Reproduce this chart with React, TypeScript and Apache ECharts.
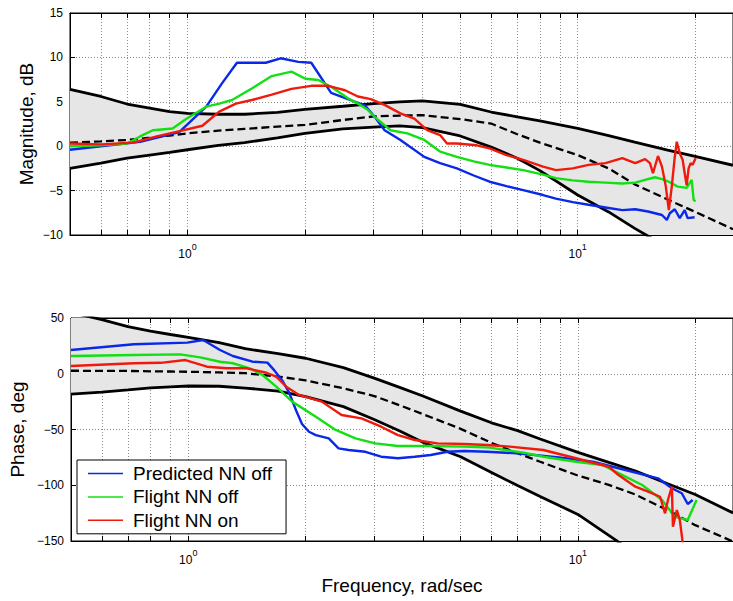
import React, { useEffect, useRef } from "react";
import * as echarts from "echarts";

// ---------- data ----------
const bandFreq = [0.5, 0.6, 0.7, 0.8, 0.9, 1.0, 1.2, 1.4, 1.7, 2.0, 2.5, 3.0, 3.5, 4.0, 5.0, 6.0, 7.0, 8.0, 10, 12, 14, 17, 20, 25];
const magUpper = [6.4, 5.6, 4.75, 4.3, 3.9, 3.7, 3.6, 3.6, 3.8, 4.15, 4.5, 4.8, 5.0, 5.1, 4.7, 3.85, 3.3, 2.85, 2.0, 1.2, 0.45, -0.45, -1.15, -2.15];
const magLower = [-2.5, -1.9, -1.35, -1.0, -0.7, -0.4, 0.1, 0.4, 0.95, 1.45, 1.95, 2.15, 2.3, 2.1, 1.15, -0.1, -1.35, -2.75, -5.5, -7.4, -9.25, -11.4, -13.2, -15.7];
const magCenter = [0.4, 0.55, 0.7, 0.95, 1.2, 1.45, 1.75, 1.95, 2.2, 2.4, 2.95, 3.35, 3.45, 3.5, 3.05, 2.55, 1.35, 0.4, -1.0, -2.5, -4.3, -6.0, -7.4, -9.35];
const phUpper = [55, 48.5, 42.2, 38.2, 35.2, 32.6, 27.9, 22.5, 18, 13.9, 5.5, -3.9, -12.5, -20, -33.5, -44, -51, -58.5, -70.5, -79.5, -87, -98.7, -108.3, -124.8];
const phLower = [-18.2, -16.5, -14.5, -12.7, -11.8, -11, -11.2, -12.8, -15.5, -20.5, -29.5, -41, -51.5, -61.5, -74.5, -88.5, -100.3, -110.1, -126.2, -144.9, -161, -181, -198, -221];
const phCenter = [2.7, 2.6, 2.5, 2.2, 2.0, 1.8, 1.2, 0.5, -2.5, -6, -13, -20, -28.5, -36.2, -49.4, -62, -71.3, -78.9, -91.3, -99.7, -108.1, -122.4, -135.8, -150.5];

const predMagFreq = [0.50, 0.60, 0.756, 0.954, 1.117, 1.227, 1.339, 1.587, 1.733, 1.924, 2.076, 2.334, 2.578, 2.847, 3.018, 3.2, 3.513, 4.044, 4.439, 4.902, 5.415, 5.946, 6.567, 7.251, 8.151, 8.794, 9.712, 10.66, 11.78, 13.01, 14.04, 15.14, 16.44, 16.92, 17.22, 17.73, 18.26, 18.8, 19.13, 19.93];
const predMag = [-0.4, 0.0, 0.5, 1.6, 4.45, 7.1, 9.4, 9.4, 9.9, 9.5, 9.4, 6.0, 5.3, 4.6, 3.3, 1.8, 0.7, -1.2, -1.9, -2.5, -3.3, -4.0, -4.5, -4.95, -5.5, -5.9, -6.3, -6.6, -6.9, -7.2, -7.1, -7.35, -7.75, -8.3, -7.55, -7.1, -8.1, -7.2, -8.1, -8.0];

const offMagFreq = [0.50, 0.60, 0.70, 0.756, 0.815, 0.916, 0.994, 1.117, 1.206, 1.301, 1.462, 1.644, 1.847, 2.005, 2.163, 2.334, 2.578, 2.733, 2.897, 3.018, 3.313, 3.659, 4.044, 4.439, 4.902, 5.415, 5.946, 6.567, 7.251, 8.151, 8.794, 9.712, 10.66, 11.78, 13.01, 14.04, 14.88, 15.78, 16.44, 17.02, 18.04, 19.02, 19.36, 19.59, 19.82, 20.05];
const offMag = [0.0, 0.1, 0.3, 1.1, 1.8, 2.0, 3.1, 4.45, 4.8, 5.2, 6.5, 7.9, 8.4, 7.6, 7.45, 6.7, 5.4, 4.8, 4.1, 3.3, 1.8, 1.45, 0.7, -0.6, -1.2, -1.7, -2.1, -2.4, -2.7, -3.2, -3.6, -3.85, -4.0, -4.1, -4.2, -4.1, -3.8, -3.5, -3.7, -3.95, -4.55, -4.7, -4.15, -3.8, -6.05, -6.2];

const onMagFreq = [0.50, 0.60, 0.725, 0.834, 0.954, 1.092, 1.206, 1.331, 1.462, 1.644, 1.847, 2.076, 2.293, 2.533, 2.733, 2.948, 3.2, 3.513, 3.813, 4.115, 4.439, 4.624, 4.902, 5.511, 5.946, 6.567, 7.251, 8.151, 8.794, 9.712, 10.66, 11.78, 13.01, 14.04, 14.88, 15.32, 15.59, 16.06, 16.44, 16.82, 17.12, 17.42, 17.73, 17.94, 18.26, 18.58, 18.8, 19.02, 19.24, 19.47, 19.7, 20.05];
const onMag = [0.3, 0.2, 0.4, 1.1, 1.7, 2.3, 3.9, 4.8, 5.2, 5.8, 6.45, 6.8, 6.8, 6.3, 5.6, 5.3, 4.65, 3.7, 3.1, 1.8, 1.25, 0.3, 0.3, 0.1, -0.25, -1.0, -1.55, -2.3, -2.7, -2.5, -2.1, -1.9, -1.35, -1.9, -1.45, -1.9, -3.05, -1.1, -2.3, -4.55, -7.2, -4.55, -1.2, 0.5, -0.8, -1.55, -3.05, -4.4, -2.5, -1.9, -2.1, -1.35];

const predPhFreq = [0.50, 0.725, 0.994, 1.092, 1.206, 1.301, 1.462, 1.596, 1.663, 1.742, 1.815, 1.891, 1.958, 2.04, 2.125, 2.293, 2.43, 2.578, 2.847, 3.126, 3.452, 3.813, 4.188, 4.624, 5.108, 5.843, 6.961, 8.95, 10.92, 13.24, 16.06, 17.42, 18.47, 19.13, 19.7];
const predPh = [21.3, 26.4, 27.9, 30.3, 21.3, 15.9, 10.8, 10, 3, -6, -17, -33, -45, -52, -55, -58, -66.9, -68.4, -70, -74.4, -75.8, -74.4, -72.9, -70, -69.3, -70, -71.3, -75, -78.9, -86.3, -93.8, -102.7, -107.2, -116.8, -113.2];

const offPhFreq = [0.50, 0.725, 0.954, 1.073, 1.206, 1.301, 1.437, 1.55, 1.682, 1.847, 2.125, 2.389, 2.685, 3.018, 3.452, 4.188, 5.108, 5.946, 7.251, 8.151, 9.883, 11.57, 13.24, 14.62, 16.44, 17.73, 19.13, 20.16];
const offPh = [15.9, 16.8, 17.4, 14.7, 10.8, 9.4, 4.9, -1.1, -11.6, -25, -38.5, -50.4, -57.9, -62.4, -64.8, -64.8, -65.4, -66.3, -70.8, -74.4, -78.9, -81.8, -92.3, -99.8, -113.2, -128.2, -131.2, -113.2];

const onPhFreq = [0.50, 0.725, 0.849, 0.983, 1.117, 1.256, 1.412, 1.587, 1.682, 1.784, 1.924, 2.201, 2.474, 2.782, 3.126, 3.452, 3.813, 4.362, 5.108, 5.843, 6.683, 8.151, 9.883, 11.99, 12.71, 14.04, 15.14, 16.25, 16.73, 17.02, 17.42, 17.53, 17.94, 18.26, 18.58, 18.8];
const onPh = [7, 9.4, 9.8, 12.3, 6.3, 4.9, 4.9, 0.9, -2.6, -11.6, -19, -25, -37, -40, -47.5, -55, -59.4, -62.4, -63, -63.9, -65.4, -68.4, -75.8, -83.4, -90.8, -101.3, -105.8, -110.3, -125.2, -113.2, -101.3, -137.2, -122.2, -131.2, -152, -160];

const seriesNames = ["Predicted NN off", "Flight NN off", "Flight NN on"];
const minorTicks = [0.6, 0.7, 0.8, 0.9, 1, 2, 3, 4, 5, 6, 7, 8, 9, 10, 20];
const majorTicks = [1, 10];

const FONT = "'Liberation Sans', Arial, Helvetica, sans-serif";
const BLUE = "#0a28e8";
const GREEN = "#12e012";
const RED = "#f01a0c";

function pairs(f: number[], v: number[]) {
  return f.map((x, i) => [x, v[i]]);
}

export default function App() {
  const ref = useRef<HTMLDivElement>(null);

  useEffect(() => {
    const chart = echarts.init(ref.current!, null, { renderer: "svg" });
    const gridLine = { type: [1, 2], color: "#8a8a8a", width: 1 };

    const makeX = (gridIndex: number, position: string, withLabels: boolean, name?: string) => ({
      type: "log",
      logBase: 10,
      gridIndex,
      position,
      min: 0.5,
      max: 25,
      axisLine: { show: true, onZero: false, lineStyle: { color: "#000", width: 1 } },
      axisTick: { show: true, inside: true, length: 5, customValues: minorTicks, lineStyle: { color: "#000", width: 1 } },
      minorTick: { show: false },
      axisLabel: withLabels
        ? {
            show: true,
            customValues: majorTicks,
            margin: 7,
            formatter: (v: number) => `{b|10}{s|${Math.round(Math.log10(v))}}`,
            rich: {
              b: { fontSize: 12, lineHeight: 24, color: "#000", fontFamily: FONT },
              s: { fontSize: 9, lineHeight: 7, verticalAlign: "top", color: "#000", fontFamily: FONT },
            },
          }
        : { show: false },
      splitLine: position === "bottom" ? { show: true, lineStyle: gridLine } : { show: false },
      name: name || "",
      nameLocation: "middle",
      nameGap: 34.5,
      nameMoveOverlap: false,
      nameTextStyle: { fontSize: 19, color: "#000", fontFamily: FONT },
    });

    const minusFmt = (v: number) => (v < 0 ? "\u2212" + Math.abs(v) : String(v));
    const makeY = (gridIndex: number, min: number, max: number, interval: number, name: string, nameGap: number) => ({
      type: "value",
      gridIndex,
      min,
      max,
      interval,
      axisLine: { show: true, lineStyle: { color: "#000", width: 1 } },
      axisTick: { show: true, inside: true, length: 5, lineStyle: { color: "#000" } },
      axisLabel: { color: "#000", fontSize: 12, margin: 7, fontFamily: FONT, formatter: minusFmt },
      splitLine: { show: true, lineStyle: gridLine },
      name,
      nameLocation: "middle",
      nameGap,
      nameMoveOverlap: false,
      nameTextStyle: { fontSize: 19, color: "#000", fontFamily: FONT },
    });

    const band = (xi: number, yi: number, up: number[], lo: number[]) => ({
      type: "custom",
      xAxisIndex: xi,
      yAxisIndex: yi,
      z: 1,
      silent: true,
      clip: true,
      data: bandFreq.map((f, i) => [f, up[i], lo[i]]),
      encode: { x: 0, y: [1, 2] },
      renderItem: (params: any, api: any) => {
        if (params.dataIndex !== 0) return null;
        const pts: number[][] = [];
        for (let i = 0; i < bandFreq.length; i++) pts.push(api.coord([bandFreq[i], up[i]]));
        for (let i = bandFreq.length - 1; i >= 0; i--) pts.push(api.coord([bandFreq[i], lo[i]]));
        const cs = params.coordSys;
        return {
          type: "polygon",
          shape: { points: pts },
          style: { fill: "#e6e6e6", stroke: null },
          clipPath: { type: "rect", shape: { x: cs.x, y: cs.y, width: cs.width, height: cs.height } },
        };
      },
    });

    const line = (name: string, xi: number, yi: number, f: number[], v: number[], color: string, width: number, dashed = false, z = 3) => ({
      type: "line",
      name,
      xAxisIndex: xi,
      yAxisIndex: yi,
      data: pairs(f, v),
      symbol: "none",
      showSymbol: false,
      clip: true,
      silent: true,
      z,
      lineStyle: { color, width, type: dashed ? [8, 4] : "solid" },
      itemStyle: { color },
    });

    const option: any = {
      animation: false,
      backgroundColor: "#fff",
      textStyle: { fontFamily: FONT },
      grid: [
        { left: 70, top: 13, width: 669, height: 222, show: true, borderColor: "#000", borderWidth: 1, backgroundColor: "transparent" },
        { left: 70, top: 318, width: 669, height: 223, show: true, borderColor: "#000", borderWidth: 1, backgroundColor: "transparent" },
      ],
      xAxis: [
        makeX(0, "bottom", true),
        makeX(0, "top", false),
        makeX(1, "bottom", true, "Frequency, rad/sec"),
        makeX(1, "top", false),
      ],
      yAxis: [makeY(0, -10, 15, 5, "Magnitude, dB", 34), makeY(1, -150, 50, 50, "Phase, deg", 44)],
      legend: {
        data: seriesNames,
        orient: "vertical",
        left: 77,
        top: 460,
        icon: "rect",
        itemWidth: 35,
        itemHeight: 1.5,
        itemGap: 4.4,
        padding: [4, 14, 4, 11],
        backgroundColor: "#fff",
        borderColor: "#000",
        borderWidth: 1,
        borderRadius: 0,
        selectedMode: false,
        z: 10,
        textStyle: { fontSize: 19, lineHeight: 19, color: "#000", fontFamily: FONT, padding: [0, 0, 0, 5] },
      },
      series: [
        band(0, 0, magUpper, magLower),
        line("magUpper", 0, 0, bandFreq, magUpper, "#000", 2.8, false, 2),
        line("magLower", 0, 0, bandFreq, magLower, "#000", 2.8, false, 2),
        line("magCenter", 0, 0, bandFreq, magCenter, "#000", 2.3, true, 2),
        line(seriesNames[0], 0, 0, predMagFreq, predMag, BLUE, 2.4),
        line(seriesNames[1], 0, 0, offMagFreq, offMag, GREEN, 2.4),
        line(seriesNames[2], 0, 0, onMagFreq, onMag, RED, 2.4),

        band(2, 1, phUpper, phLower),
        line("phUpper", 2, 1, bandFreq, phUpper, "#000", 2.8, false, 2),
        line("phLower", 2, 1, bandFreq, phLower, "#000", 2.8, false, 2),
        line("phCenter", 2, 1, bandFreq, phCenter, "#000", 2.3, true, 2),
        line(seriesNames[0], 2, 1, predPhFreq, predPh, BLUE, 2.4),
        line(seriesNames[1], 2, 1, offPhFreq, offPh, GREEN, 2.4),
        line(seriesNames[2], 2, 1, onPhFreq, onPh, RED, 2.4),
      ],
    };

    chart.setOption(option);
    return () => chart.dispose();
  }, []);

  return (
    <div
      ref={ref}
      style={{ position: "fixed", left: 0, top: 0, width: 733, height: 601, background: "#fff" }}
    />
  );
}
